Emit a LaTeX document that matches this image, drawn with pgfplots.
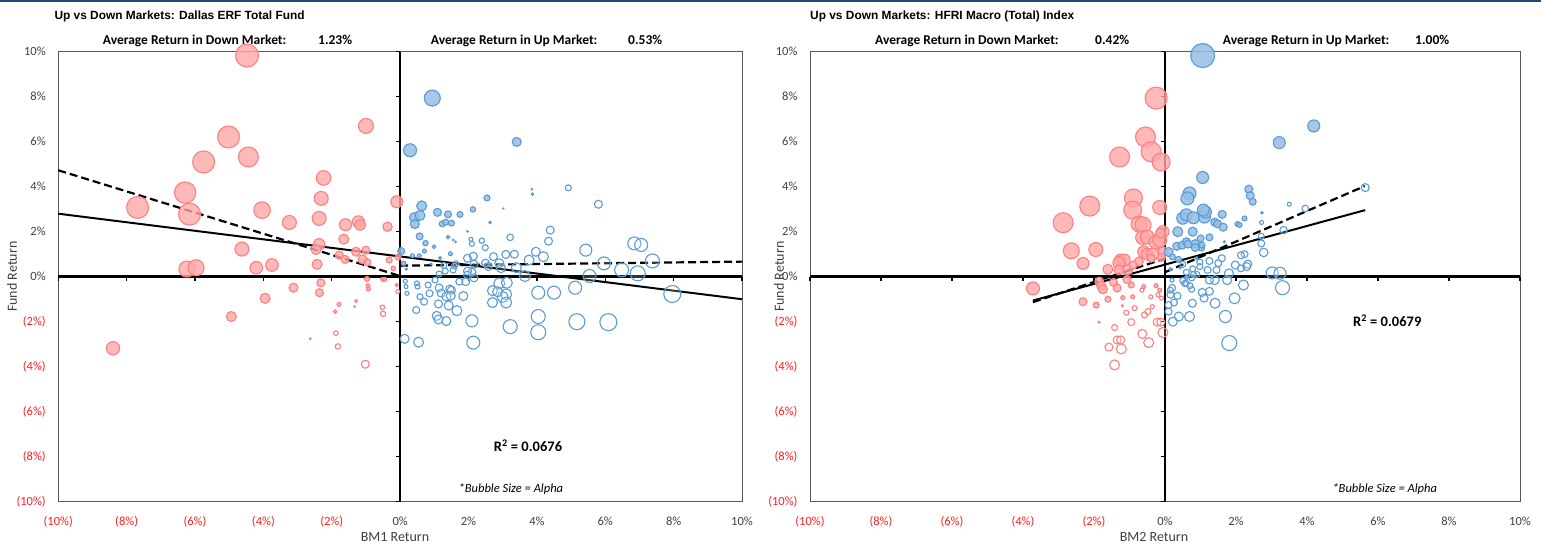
\documentclass[border=0pt]{standalone}
\usepackage{pgfplots}
\pgfplotsset{compat=1.18}
\usepackage{fontspec}
\setmainfont{Carlito}
\newfontfamily\ttlfont{Liberation Sans}
\definecolor{redfill}{RGB}{255,168,168}
\definecolor{rededge}{RGB}{255,128,128}
\definecolor{bluefill}{RGB}{150,190,228}
\definecolor{blueedge}{RGB}{91,155,213}
\definecolor{negred}{RGB}{255,30,30}
\definecolor{poslab}{RGB}{64,64,64}
\definecolor{navy}{RGB}{31,73,125}

\pgfplotsset{
  bub/.style n args={3}{only marks, scatter, mark=*, line width=1.1pt,
    scatter/use mapped color={draw=#1, fill=#2, fill opacity=#3},
    visualization depends on={\thisrow{r}\as\rr},
    scatter/@pre marker code/.append style={/tikz/mark size=\rr}},
  panel/.style={scale only axis, height=450pt, xmin=-10, xmax=10, ymin=-10, ymax=10,
    clip=false, anchor=south west,
    xtick={-10,-8,...,10}, ytick={-10,-8,...,10},
    major tick length=0pt,
    axis line style={black!65, line width=0.9pt},
    tick label style={font=\fontsize{12.5}{14}\selectfont},
    xticklabel style={anchor=center, yshift=-20pt},
    yticklabel style={anchor=east, xshift=-9pt},
    xticklabels={\textcolor{negred}{(10\%)},\textcolor{negred}{(8\%)},\textcolor{negred}{(6\%)},\textcolor{negred}{(4\%)},\textcolor{negred}{(2\%)},\textcolor{poslab}{0\%},\textcolor{poslab}{2\%},\textcolor{poslab}{4\%},\textcolor{poslab}{6\%},\textcolor{poslab}{8\%},\textcolor{poslab}{10\%}},
    yticklabels={\textcolor{negred}{(10\%)},\textcolor{negred}{(8\%)},\textcolor{negred}{(6\%)},\textcolor{negred}{(4\%)},\textcolor{negred}{(2\%)},\textcolor{poslab}{0\%},\textcolor{poslab}{2\%},\textcolor{poslab}{4\%},\textcolor{poslab}{6\%},\textcolor{poslab}{8\%},\textcolor{poslab}{10\%}}}
}
\newcommand\zeroaxes{%
  \draw[black, line width=2.6pt] (axis cs:-10,0) -- (axis cs:10,0);
  \draw[black, line width=2.3pt] (axis cs:0,-10) -- (axis cs:0,10);
  \pgfplotsinvokeforeach{-10,-8,...,10}{
    \draw[black, line width=1.4pt] (axis cs:##1,0) -- ++(0pt,-4.5pt);
    \draw[black, line width=1.4pt] (axis cs:0,##1) -- ++(-4.5pt,0pt);
  }}

\begin{document}
\begin{tikzpicture}
\useasboundingbox (0,0) rectangle (1541pt,547pt);
\fill[navy] (0,545.3pt) rectangle (1541pt,547pt);

% ---------------- left panel ----------------
\begin{axis}[panel, at={(58.3pt,45.3pt)}, width=683.7pt]
\zeroaxes
\addplot[bub={rededge}{redfill}{0.8}] table[row sep=\\]{x y r\\
-4.48 9.83 11.5\\ -1.00 6.70 7.5\\ -5.02 6.21 11\\ -4.44 5.32 10\\ -5.75 5.10 11\\
-2.24 4.39 7.3\\ -6.29 3.74 10.7\\ -2.31 3.48 7\\ -7.68 3.08 11\\ -6.16 2.78 11\\
-4.04 2.96 8.3\\ -3.24 2.41 7\\ -2.37 2.59 7\\ -1.60 2.31 6\\ -1.22 2.44 6\\
-1.17 2.30 5.5\\ -0.37 2.22 4.7\\ -0.10 3.33 6\\ -4.63 1.23 7\\ -2.37 1.44 5.7\\
-2.46 1.21 5\\ -1.65 1.67 5\\ -1.29 1.11 4.5\\ -1.00 1.18 4\\ -1.78 0.96 4\\
-1.61 0.77 4\\ -1.10 0.77 4.5\\ -0.96 0.64 3.5\\ -0.32 0.74 3\\ -2.43 0.55 5\\
-6.24 0.34 8\\ -5.97 0.40 8\\ -4.21 0.40 6.3\\ -3.75 0.52 6.3\\ -0.20 0.37 2.3\\
-0.06 0.87 3\\ -3.12 -0.49 4.5\\ -2.32 -0.27 4\\ -2.36 -0.71 4\\ -3.95 -0.96 5\\
-4.94 -1.77 5\\ -8.40 -3.18 6.7\\ -0.97 -0.10 2.5\\ -0.94 -0.40 2\\ -0.93 -0.55 2\\
-0.51 -0.12 2\\ -0.45 -0.12 2\\ -0.10 -0.37 1.5\\ -1.29 -1.08 1.5\\ -1.79 -1.23 2\\
-1.90 -1.55 1.8\\ -1.33 -1.33 0.8\\ -2.63 -2.76 0.8\\
};
\addplot[bub={rededge}{white}{0.2}] table[row sep=\\]{x y r\\
-0.07 -0.66 2\\ -0.52 -1.36 2.3\\ -0.50 -1.65 2.7\\ -1.88 -2.51 2.3\\ -1.82 -3.10 2.7\\
-1.02 -3.89 4\\
};
\addplot[bub={blueedge}{bluefill}{0.85}] table[row sep=\\]{x y r\\
0.94 7.94 8\\ 0.29 5.62 6.5\\ 3.41 5.99 4.5\\ 3.85 3.89 0.8\\ 3.87 3.67 1.2\\
2.54 3.50 3\\ 0.63 3.15 5\\ 0.42 2.63 5\\ 0.58 2.72 5\\ 0.43 2.34 4.5\\
1.09 2.86 4\\ 1.40 2.77 3.5\\ 1.75 2.77 3\\ 2.13 2.99 2.7\\ 1.23 2.35 3\\
1.33 2.42 3\\ 1.50 2.38 3\\ 2.63 2.41 1.2\\ 3.02 3.03 0.5\\ 0.57 1.79 3.5\\
0.74 1.49 2.7\\ 0.99 1.33 1.8\\ 1.40 1.76 1.8\\ 1.62 1.55 0.8\\ 1.55 1.63 0.8\\
1.97 2.01 0.7\\ 0.71 1.14 2\\ 0.03 1.14 3.5\\ 0.36 0.93 2\\ 0.56 0.93 2\\
0.10 0.59 2.3\\ 0.18 0.34 1\\ 1.17 0.83 1.5\\ 1.47 1.02 2\\ 0.90 0.56 1\\
};
\addplot[bub={blueedge}{white}{0.2}] table[row sep=\\]{x y r\\
4.92 3.95 3\\ 5.80 3.22 4\\ 2.07 1.66 2\\ 2.10 1.46 2.5\\ 2.39 1.60 2.7\\
2.49 1.29 3\\ 3.22 1.75 3.3\\ 4.39 2.07 4\\ 4.34 1.58 4\\ 3.97 1.11 4.5\\
4.19 0.89 5\\ 5.43 1.18 6\\ 6.85 1.48 6.5\\ 7.05 1.41 6.5\\ 7.38 0.70 7\\
5.96 0.59 6.5\\ 6.48 0.30 7\\ 6.95 0.15 7.5\\ 5.54 0.03 6.5\\ 3.77 0.74 5\\
3.65 0.03 5.5\\ 3.34 1.00 4\\ 3.09 0.99 4\\ 2.73 0.89 4\\ 2.50 0.60 4\\
2.58 0.45 4\\ 2.95 0.38 4.5\\ 2.90 0.60 4.5\\ 3.40 0.40 5\\ 2.16 0.55 4\\
2.16 -0.05 4\\ 2.10 0.20 4\\ 1.97 0.25 4\\ 1.97 0.07 4\\ 1.92 -0.22 4\\
1.73 -0.22 3.5\\ 1.58 0.47 3\\ 1.55 0.30 3\\ 1.32 0.25 3\\ 1.28 0.50 3\\
1.14 0.12 3\\ 1.02 -0.15 3\\ 0.49 -0.30 2.5\\ 0.51 -0.44 2.5\\ 0.15 -0.20 2\\
0.17 -0.44 2\\ 0.20 -0.74 2\\ 0.82 -0.37 3\\ 0.86 -0.74 3.5\\ 0.58 -0.89 3\\
0.70 -1.11 3.5\\ 1.14 -0.50 4\\ 1.20 -0.73 4\\ 1.45 -0.55 4\\ 1.50 -0.60 4\\
1.35 -0.88 4.5\\ 1.48 -0.85 4.5\\ 1.12 -1.21 4\\ 1.42 -1.28 4.5\\ 1.85 -0.86 4.5\\
1.66 -1.51 5\\ 0.47 -1.48 3.5\\ 1.07 -1.74 4.5\\ 1.12 -1.90 4.5\\ 1.35 -1.97 4.5\\
2.10 -1.96 6\\ 2.70 -0.62 5\\ 2.70 -1.15 5\\ 2.90 -0.30 5.5\\ 3.12 -0.27 5.5\\
3.10 -0.78 5.5\\ 3.00 -0.90 5.5\\ 3.10 -1.15 5.5\\ 2.85 -0.67 5\\ 4.04 -0.71 6.5\\
4.50 -0.71 6.5\\ 5.12 -0.49 6.5\\ 7.96 -0.77 8.5\\ 4.04 -1.77 7\\ 4.04 -2.47 7.5\\
3.22 -2.22 7\\ 5.17 -2.00 8\\ 6.09 -2.02 8.5\\ 0.13 -2.76 4.5\\ 0.54 -2.91 5\\
2.14 -2.93 6.5\\ 1.97 0.82 4\\ 2.14 0.91 4\\ 1.63 0.57 3\\
};
\addplot[black, line width=2pt] coordinates {(-10,2.8) (10,-1.0)};
\addplot[black, line width=2.2pt, dash pattern=on 8pt off 4pt] coordinates {(-10,4.73) (0,0.03)};
\addplot[black, line width=2.2pt, dash pattern=on 8pt off 4pt] coordinates {(0,0.49) (10,0.67)};
\node[font=\bfseries\fontsize{14.5}{16}\selectfont] at (axis cs:3.74,-7.5) {R\textsuperscript{2} = 0.0676};
\node[font=\itshape\fontsize{12.5}{14}\selectfont] at (axis cs:3.24,-9.43) {*Bubble Size = Alpha};
\end{axis}

% ---------------- right panel ----------------
\begin{axis}[panel, at={(810pt,45.3pt)}, width=710pt]
\zeroaxes
\addplot[bub={rededge}{redfill}{0.8}] table[row sep=\\]{x y r\\
-0.25 7.94 11\\ -0.55 6.21 10\\ -0.39 5.55 10\\ -1.28 5.32 10\\ -0.11 5.10 9\\
-2.12 3.14 10\\ -2.87 2.40 10\\ -0.89 3.50 9\\ -0.91 2.96 9\\ -0.15 3.08 7\\
-0.73 2.34 8\\ -0.62 2.30 8\\ -0.06 2.00 6\\ -0.63 1.74 7\\ -0.50 1.76 7\\
-0.25 1.54 7\\ -0.15 1.62 7\\ -2.64 1.15 8\\ -1.95 1.21 7\\ -0.60 1.10 6\\
-0.50 1.00 6\\ -0.35 1.00 6\\ -2.31 0.59 6\\ -1.25 0.74 6\\ -1.15 0.74 6\\
-1.30 0.62 6\\ -1.61 0.33 5\\ -1.30 0.30 5\\ -1.05 0.30 5\\ -0.74 0.67 4.5\\
-0.06 1.11 5\\ -0.39 0.82 4\\ -0.10 0.86 4\\ -0.90 0.52 4\\ -0.13 1.94 5\\
-3.72 -0.52 6.5\\ -1.85 -0.22 4.5\\ -1.80 -0.40 4.5\\ -1.75 -0.56 4.5\\ -1.45 -0.25 4\\
-1.35 -0.50 4\\ -1.07 -0.12 4\\ -0.95 -0.37 3\\ -2.31 -1.11 4\\ -1.94 -1.26 3\\
-1.61 -1.00 3\\ -1.19 -0.93 2\\ -0.91 -0.89 2\\ -0.60 -0.44 2\\ -0.25 -0.40 2\\
-0.15 -0.60 2\\ -1.86 -2.02 1\\ -1.20 -1.29 1\\
};
\addplot[bub={rededge}{white}{0.2}] table[row sep=\\]{x y r\\
-1.09 -1.60 2.5\\ -0.86 -1.40 2.5\\ -0.95 -2.02 3.5\\ -0.58 -1.70 3\\ -0.48 -1.55 3\\
-0.36 -1.33 2\\ -0.22 -2.02 4\\ -0.12 -2.02 4\\ -0.06 -2.48 5\\ -0.64 -2.54 4.5\\
-0.46 -2.93 5\\ -1.42 -2.26 3\\ -1.35 -2.81 4\\ -1.25 -2.81 4\\ -1.58 -3.13 4\\
-1.23 -3.21 5\\ -1.42 -3.92 5\\ -0.20 -0.80 2\\ -0.10 -0.95 2\\ -0.40 -0.90 2\\
-0.65 -0.60 2\\
};
\addplot[bub={blueedge}{bluefill}{0.85}] table[row sep=\\]{x y r\\
1.06 9.83 12\\ 4.19 6.70 6\\ 3.22 5.96 6\\ 1.06 4.41 6\\ 2.36 3.89 4\\
2.40 3.60 4\\ 2.47 3.33 3.5\\ 0.69 3.70 6.5\\ 0.63 3.48 6.5\\ 0.50 2.60 6\\
0.60 2.75 6\\ 0.80 2.62 6\\ 1.11 2.65 6\\ 1.14 2.87 6\\ 1.08 2.96 6\\
1.61 2.77 4\\ 1.40 2.42 4\\ 1.48 2.35 4\\ 1.64 2.20 4\\ 0.36 2.00 5\\
0.78 2.00 4.5\\ 1.00 1.70 3.5\\ 1.25 1.75 3.5\\ 2.04 2.34 2.5\\ 2.10 2.30 2.5\\
2.24 2.59 2.5\\ 2.73 2.84 1.2\\ 0.33 1.35 4\\ 0.48 1.40 4\\ 0.60 1.55 4\\
0.65 1.45 4\\ 0.85 1.47 4\\ 0.85 1.30 4\\ 0.10 1.10 4.5\\ 1.03 1.27 3\\
1.04 1.40 3\\ 1.67 1.55 1\\ 0.15 0.34 1.5\\ 0.61 -0.03 2\\ 0.43 0.40 1.2\\
0.89 0.82 1.5\\ 0.21 0.88 3\\ 0.38 0.77 3\\
};
\addplot[bub={blueedge}{white}{0.2}] table[row sep=\\]{x y r\\
5.64 3.96 4\\ 3.95 3.03 3.3\\ 3.50 3.22 2\\ 2.72 2.41 2\\ 3.34 2.07 3.7\\
2.71 1.80 3\\ 2.71 1.48 3.5\\ 2.78 1.08 4.3\\ 2.24 1.00 3.5\\ 2.14 0.95 3.5\\
2.33 0.56 4\\ 2.30 0.45 4\\ 1.98 0.52 4\\ 2.14 0.37 3.5\\ 1.60 0.82 3.5\\
1.50 0.60 3.5\\ 1.45 0.30 3.5\\ 1.25 0.70 3.5\\ 1.20 0.30 3.5\\ 1.80 0.15 4.5\\
1.75 -0.15 4.5\\ 1.40 -0.15 4.5\\ 1.25 -0.15 4\\ 0.98 0.65 3\\ 0.98 0.45 3\\
0.90 0.10 3\\ 0.80 0.10 3\\ 0.75 -0.05 3\\ 0.50 0.55 3\\ 0.60 0.20 3\\
0.78 0.35 3\\ 0.50 -0.17 3\\ 0.55 -0.30 3\\ 3.02 0.17 6\\ 3.24 0.15 6\\
3.31 -0.49 7\\ 2.21 -0.37 5\\ 1.96 -0.96 5.5\\ 1.70 -1.77 6\\ 1.81 -2.95 7.5\\
1.41 -1.18 5\\ 1.25 -0.65 4\\ 1.05 -0.70 4\\ 1.10 -0.95 4\\ 0.77 -1.18 4\\
0.69 -1.77 5\\ 0.39 -1.77 4.5\\ 0.22 -2.00 4.5\\ 0.35 -0.85 3.5\\ 0.20 -0.50 3.5\\
0.25 -1.15 3.5\\ 0.10 -1.26 3.5\\ 0.10 -1.55 3.5\\ 0.15 -0.80 3.5\\ 0.60 -0.30 3\\
0.75 -0.56 3\\ 0.70 -0.40 3\\ 0.15 -0.60 3\\ 0.20 -0.15 2\\
};
\addplot[black, line width=2pt] coordinates {(-3.72,-1.06) (5.64,2.96)};
\addplot[black, line width=2.2pt, dash pattern=on 8pt off 4pt] coordinates {(-3.72,-1.13) (0,0.81)};
\addplot[black, line width=2.2pt, dash pattern=on 8pt off 4pt] coordinates {(0,0.20) (5.63,4.03)};
\node[font=\bfseries\fontsize{14.5}{16}\selectfont] at (axis cs:6.26,-1.96) {R\textsuperscript{2} = 0.0679};
\node[font=\itshape\fontsize{12.5}{14}\selectfont] at (axis cs:6.19,-9.43) {*Bubble Size = Alpha};
\end{axis}

% ---------------- titles and labels ----------------
\node[anchor=base west, inner sep=0, font=\ttlfont\bfseries\fontsize{11.9}{13}\selectfont] at (54.3pt,527.4pt) {Up vs Down Markets: Dallas ERF Total Fund};
\node[anchor=base west, inner sep=0, font=\ttlfont\bfseries\fontsize{11.9}{13}\selectfont] at (810pt,527.4pt) {Up vs Down Markets: HFRI Macro (Total) Index};
\begin{scope}[every node/.style={anchor=base west, inner sep=0, font=\bfseries\fontsize{13.5}{15}\selectfont}]
\node at (102.7pt,502pt) {Average Return in Down Market:};
\node at (318pt,502pt) {1.23\%};
\node at (430.7pt,502pt) {Average Return in Up Market:};
\node at (628pt,502pt) {0.53\%};
\node at (875pt,502pt) {Average Return in Down Market:};
\node at (1095pt,502pt) {0.42\%};
\node at (1222.7pt,502pt) {Average Return in Up Market:};
\node at (1415pt,502pt) {1.00\%};
\end{scope}
\begin{scope}[every node/.style={text=poslab, font=\fontsize{14}{16}\selectfont}]
\node[rotate=90] at (12pt,270.3pt) {Fund Return};
\node[rotate=90] at (779pt,270.3pt) {Fund Return};
\node at (395pt,10.3pt) {BM1 Return};
\node at (1154pt,10.3pt) {BM2 Return};
\end{scope}
\end{tikzpicture}
\end{document}
